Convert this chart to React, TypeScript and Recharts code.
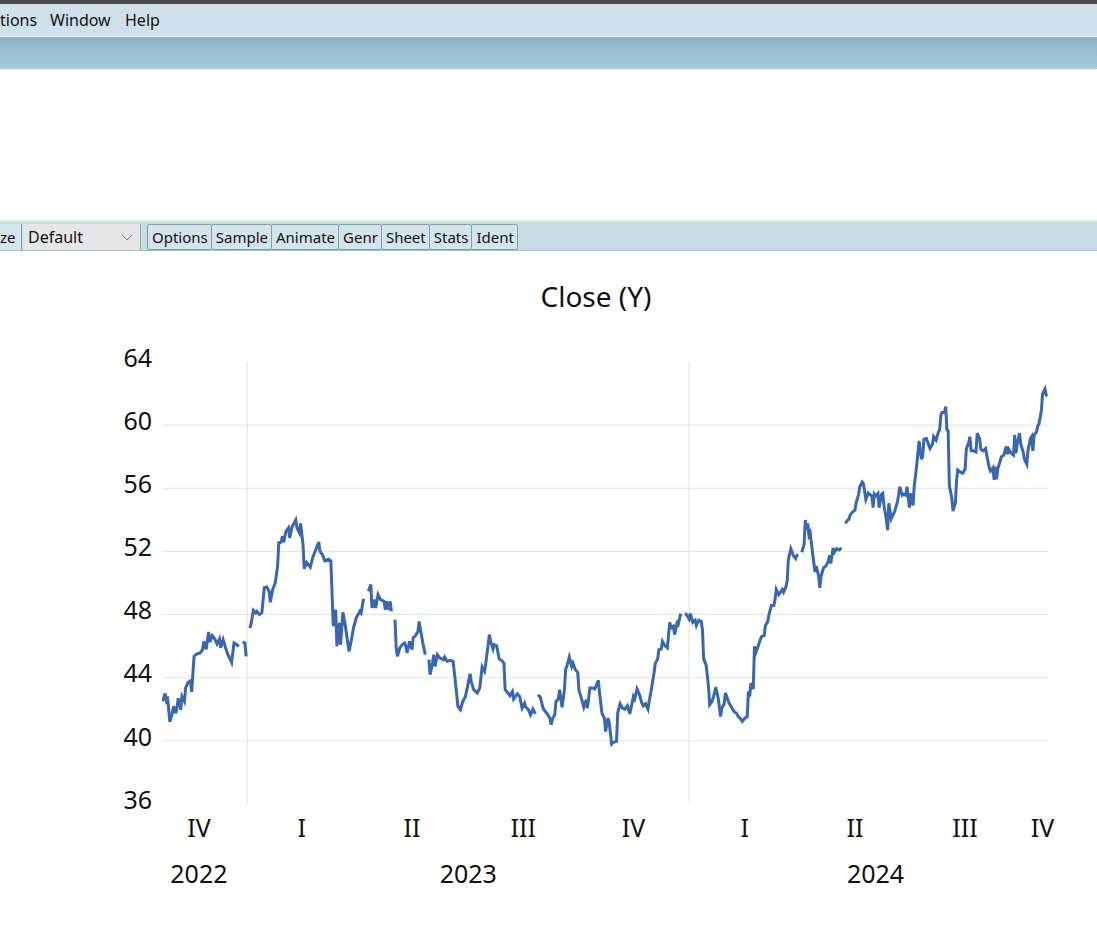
import React from "react";
import { LineChart, Line, XAxis, YAxis, ReferenceLine } from "recharts";

// Daily close, x = days since 2022-10-01, null = missing value (line break)
const close2022: [number, number | null][] = [
  [22, 42.5], [24, 43.0], [25, 42.6], [26, 42.8], [28, 41.2], [30, 41.75], [31, 42.2], [33, 41.75],
  [34, 42.2], [35, 42.7], [37, 41.97], [38, 42.8], [40, 42.5], [41, 43.35], [43, 43.7], [45, 43.8],
  [46, 43.1], [48, 45.35], [50, 45.5], [53, 45.57], [55, 45.78], [56, 46.3], [58, 45.8], [60, 46.9],
  [61, 46.25], [63, 46.67], [65, 46.46], [67, 46.14], [69, 46.46], [70, 45.89], [72, 46.41], [74, 45.89],
  [76, 45.46], [78, 45.14], [79, 44.97], [81, 46.2], [83, 46.1], [85, 45.99], [86.5, null], [88, 46.25],
  [90, 46.2], [91, 45.35], [92, null],
];

const close2023: [number, number | null][] = [
  [94, 47.15], [95, 47.37], [97, 48.27], [99, 48.1], [100, 48.2], [102, 48.0], [104, 48.1], [106, 49.7],
  [108, 49.75], [110, 49.48], [111, 48.78], [113, 49.6], [115, 50.0], [117, 51.07], [118, 52.55], [120, 52.59],
  [121, 52.97], [122, 52.59], [124, 53.29], [126, 53.49], [127, 52.86], [129, 53.56], [132, 53.99], [133, 53.49],
  [135, 53.18], [136, 53.78], [138, 52.44], [139, 50.9], [141, 51.3], [144, 51.0], [146, 51.6], [149, 52.2],
  [151, 52.6], [152, 52.0], [154, 51.8], [156, 51.4], [159, 51.5], [161, 51.4], [163, 47.26], [165, 48.3],
  [166, 45.99], [168, 47.47], [169, 46.1], [171, 48.15], [173, 47.26], [176, 45.67], [178, 46.41], [180, 47.26],
  [182, 47.79], [183, 47.94], [185, 48.21], [186, 48.1], [188, 49.0], [190, null], [192, 49.48], [194, 49.9],
  [195, 48.42], [197, 48.95], [198, 48.42], [200, 49.27], [202, 48.95], [205, 48.84], [206, 48.3], [207, 48.84],
  [209, 48.3], [210, 48.84], [211, 48.2], [212.5, null], [214, 47.68], [215, 45.89], [216, 45.35], [218, 45.89],
  [220, 46.1], [222, 46.2], [223, 45.99], [224, 45.57], [226, 46.3], [228, 45.78], [229, 46.52], [231, 46.67],
  [233, 46.94], [234, 47.57], [235, 47.05], [237, 46.2], [239, 45.46], [240.5, null], [242, 45.14], [243, 44.19],
  [245, 44.93], [246, 45.46], [247, 44.72], [249, 45.46], [251, 45.25], [254, 45.14], [255, 45.31], [257, 45.04],
  [260, 45.1], [262, 45.04], [264, 43.66], [266, 42.18], [268, 41.97], [270, 42.5], [272, 42.77], [274, 43.45],
  [276, 44.25], [277, 43.77], [279, 43.24], [282, 43.03], [284, 43.35], [286, 44.68], [288, 44.4], [289, 44.93],
  [291, 46.1], [292, 46.73], [293, 46.3], [295, 45.82], [296, 46.1], [298, 46.03], [300, 45.19], [302, 45.1],
  [304, 44.93], [305, 43.24], [307, 43.07], [309, 42.86], [311, 43.13], [312, 42.65], [315, 42.98], [317, 42.81],
  [319, 42.07], [321, 42.39], [322, 42.13], [324, 42.01], [326, 41.65], [328, 42.01], [330, 41.71], [331, null],
  [332, 42.92], [334, 42.77], [336, 42.18], [337, 41.97], [339, 41.8], [342, 41.44], [343, 41.02], [344, 41.38],
  [346, 41.65], [347, 42.5], [349, 42.65], [350, 43.24], [352, 42.13], [354, 43.24], [355, 44.55], [356, 44.72],
  [358, 45.31], [360, 44.72], [361, 44.93], [363, 44.51], [365, 44.34], [366, 43.19], [368, 42.71], [370, 42.13],
  [372, 42.6], [373, 42.07], [375, 43.35], [377, 43.35], [379, 43.28], [380, 43.45], [382, 43.83], [383, 43.03],
  [385, 41.76], [387, 41.44], [388, 40.59], [390, 41.44], [391, 41.16], [393, 39.81], [394, 39.89], [397, 39.96],
  [398, 41.76], [400, 42.35], [402, 42.07], [404, 42.01], [406, 42.22], [408, 41.71], [409, 42.07], [411, 42.81],
  [412, 42.65], [414, 43.28], [416, 42.92], [418, 42.39], [419, 42.22], [421, 42.35], [423, 42.01], [424, 42.5],
  [426, 43.35], [428, 44.3], [429, 44.89], [431, 45.19], [432, 45.78], [434, 45.82], [435, 46.3], [437, 46.03],
  [439, 45.89], [441, 47.51], [442, 47.15], [444, 47.26], [445, 46.73], [447, 47.47], [448, 47.37], [450, 48.06],
  [452, null], [454, 48.1], [456, 47.85],
];

const close2024: [number, number | null][] = [
  [457, 47.72], [458, 48.06], [460, 47.51], [462, 47.64], [463, 47.3], [465, 47.64], [467, 47.57], [468, 47.05],
  [469, 45.19], [471, 44.83], [473, 43.45], [474, 42.29], [476, 42.5], [478, 43.03], [479, 43.4], [481, 42.71],
  [483, 41.54], [484, 42.07], [486, 42.35], [487, 43.03], [489, 42.6], [490, 42.39], [492, 42.13], [494, 41.86],
  [496, 41.76], [498, 41.5], [499, 41.44], [501, 41.23], [503, 41.44], [505, 41.54], [506, 43.13], [507, 42.81],
  [508, 43.66], [510, 43.28], [511, 45.99], [512, 45.57], [514, 45.99], [516, 46.46], [517, 46.62], [519, 46.67],
  [520, 47.3], [522, 47.57], [523, 48.0], [525, 48.57], [527, 48.57], [528, 48.95], [529, 49.59], [531, 49.27],
  [532, 49.38], [534, 49.59], [535, 49.42], [537, 49.76], [538, 50.11], [539, 51.49], [541, 52.17], [543, 51.75],
  [545, 51.54], [546, 51.75], [547, 51.81], [548.5, null], [550, 51.95], [552, 52.44], [553, 53.99], [554, 53.4],
  [555, 53.78], [556, 53.02], [557, 53.18], [559, 51.9], [561, 50.69], [562, 51.07], [564, 50.43], [565, 49.69],
  [566, 50.43], [568, 50.96], [570, 51.07], [572, 51.38], [573, 51.75], [574, 51.24], [576, 52.22], [577, 51.95],
  [579, 52.17], [581, 52.09], [582, 52.17], [583, 52.13], [584.5, null], [586, 53.78], [588, 53.99], [589, 54.03],
  [590, 54.29], [592, 54.5], [594, 54.62], [595, 55.09], [597, 55.6], [598, 56.1], [600, 56.4], [601, 56.3],
  [603, 55.3], [605, 55.7], [606, 55.62], [608, 55.51], [609, 54.77], [610, 55.62], [611, 55.51], [613, 55.68],
  [614, 54.77], [616, 55.62], [617, 55.68], [618, 54.88], [620, 54.03], [621, 53.35], [622, 55.05], [624, 54.07],
  [625, 54.24], [627, 54.56], [629, 55.13], [630, 55.51], [631, 56.1], [633, 55.56], [634, 55.62], [636, 55.56],
  [637, 56.1], [639, 54.77], [640, 55.68], [642, 54.92], [643, 56.15], [645, 57.42], [647, 59.0], [648, 58.37],
  [649, 57.84], [650, 58.05], [651, 59.11], [653, 59.15], [654, 58.94], [656, 58.52], [658, 58.79], [659, 59.28],
  [661, 59.05], [663, 59.57], [664, 59.7], [665, 60.63], [666, 60.8], [668, 60.8], [669, 61.18], [670, 59.7],
  [671, 59.64], [672, 56.15], [674, 55.4], [675, 54.56], [677, 55.09], [678, 56.57], [679, 57.16], [681, 57.03],
  [683, 56.95], [685, 57.21], [686, 58.48], [688, 58.9], [689, 59.28], [690, 58.37], [692, 58.37], [694, 58.3],
  [695, 59.49], [697, 59.15], [698, 58.48], [700, 58.37], [702, 58.52], [703, 58.05], [705, 57.3], [706, 57.09],
  [708, 57.3], [709, 56.53], [710, 57.37], [711, 56.57], [712, 57.24], [714, 57.73], [715, 58.0], [717, 58.1],
  [719, 58.65], [720, 58.16], [721, 58.48], [723, 58.22], [725, 58.1], [726, 59.37], [727, 58.22], [728, 58.79],
  [730, 59.49], [731, 58.79], [733, 58.3], [734, 57.84], [736, 57.52], [737, 58.42], [739, 59.15], [740, 59.28],
  [741, 58.37], [742, 59.37], [744, 59.57], [745, 59.95], [746, 60.06], [748, 60.91], [749, 61.97], [751, 62.29],
  [752, 61.9], [753, 61.85],
];

const yTicks = [36, 40, 44, 48, 52, 56, 60, 64];
const gridValues = [40, 44, 48, 52, 56, 60];
const yearBreaks = [92, 457]; // 2023-01-01 and 2024-01-01
const quarterTicks = [52, 137, 228, 320, 411, 503, 594, 685, 749];
const quarterLabels = ["IV", "I", "II", "III", "IV", "I", "II", "III", "IV"];
const yearTicks = [52, 274.5, 611];
const yearLabels = ["2022", "2023", "2024"];
const xDomain = [21.5, 753.5];

const menuItems = ["tions", "Window", "Help"];
const toolButtons = ["Options", "Sample", "Animate", "Genr", "Sheet", "Stats", "Ident"];

const chartData = [...close2022, ...close2023, ...close2024].map(([day, close]) => ({ day, close }));

const FONT = "'Noto Sans', 'Open Sans', sans-serif";
const INK = "#111111";

const QuarterTick = ({ x, y, payload }: any) => {
  const i = quarterTicks.indexOf(payload.value);
  return (
    <text x={x} y={y + 24} dy="0.35em" textAnchor="middle" fontSize={25} fontFamily={FONT} fill={INK}>
      {quarterLabels[i]}
    </text>
  );
};

const YearTick = ({ x, y, payload }: any) => {
  const i = yearTicks.indexOf(payload.value);
  return (
    <text x={x} y={y + 23} dy="0.35em" textAnchor="middle" fontSize={25} fontFamily={FONT} fill={INK}>
      {yearLabels[i]}
    </text>
  );
};

// value labels sit a little above their gridline, as in the original
const ValueTick = ({ x, y, payload }: any) => (
  <text x={x} y={y - 4} dy="0.35em" textAnchor="end" fontSize={25} fontFamily={FONT} fill={INK}>
    {payload.value}
  </text>
);

export default function App() {
  return (
    <div
      style={{
        position: "absolute",
        left: 0,
        top: 0,
        width: 1097,
        height: 926,
        overflow: "hidden",
        background: "#ffffff",
        fontFamily: FONT,
      }}
    >
      {/* window chrome */}
      <div style={{ position: "absolute", left: 0, top: 0, width: 1097, height: 4, background: "#4a4a4a" }} />
      <div style={{ position: "absolute", left: 0, top: 4, width: 1097, height: 32, background: "#cfe0ea" }}>
        {menuItems.map((m, i) => (
          <span
            key={m}
            style={{
              position: "absolute",
              left: [0, 50, 125][i],
              top: 0,
              lineHeight: "32px",
              fontSize: 16,
              color: INK,
            }}
          >
            {m}
          </span>
        ))}
      </div>
      <div style={{ position: "absolute", left: 0, top: 36, width: 1097, height: 1, background: "#eef4f7" }} />
      <div
        style={{
          position: "absolute",
          left: 0,
          top: 37,
          width: 1097,
          height: 32,
          background: "linear-gradient(#8db3c5, #a8cadb)",
        }}
      />

      {/* toolbar */}
      <div style={{ position: "absolute", left: 0, top: 220, width: 1097, height: 2, background: "#e4e4e4" }} />
      <div
        style={{
          position: "absolute",
          left: 0,
          top: 222,
          width: 1097,
          height: 28,
          background: "#c8dce4",
          borderBottom: "1px solid #a3bcc7",
        }}
      />
      <div
        style={{
          position: "absolute",
          left: 0,
          top: 224,
          width: 21,
          height: 26,
          borderRight: "1px solid #7f9eac",
          background: "#d5e5ec",
          fontSize: 15,
          lineHeight: "26px",
          color: INK,
        }}
      >
        ze
      </div>
      <div
        style={{
          position: "absolute",
          left: 23,
          top: 224,
          width: 117,
          height: 26,
          background: "#e6e6e6",
          borderRight: "1px solid #8ea9b5",
          fontSize: 16,
          lineHeight: "26px",
          color: INK,
        }}
      >
        <span style={{ position: "absolute", left: 5 }}>Default</span>
        <svg width={12} height={8} style={{ position: "absolute", left: 98, top: 10 }}>
          <polyline points="1,1 6,6 11,1" fill="none" stroke="#777" strokeWidth={1} />
        </svg>
      </div>
      <div style={{ position: "absolute", left: 147, top: 224, display: "flex" }}>
        {toolButtons.map((b) => (
          <div
            key={b}
            style={{
              height: 24,
              padding: "0 3px 0 4px",
              border: "1px solid #7f9eac",
              borderRadius: 2,
              marginRight: -1,
              background: "#d4e4eb",
              fontSize: 15,
              lineHeight: "25px",
              color: INK,
            }}
          >
            {b}
          </div>
        ))}
      </div>

      {/* title */}
      <div
        style={{
          position: "absolute",
          left: 446,
          top: 280,
          width: 300,
          textAlign: "center",
          fontSize: 28,
          lineHeight: "32px",
          color: INK,
        }}
      >
        Close (Y)
      </div>

      {/* chart */}
      <div style={{ position: "absolute", left: 0, top: 255 }}>
        <LineChart width={1097} height={671} data={chartData} margin={{ top: 107, right: 49, bottom: 25, left: 102 }}>
          <XAxis
            xAxisId="q"
            dataKey="day"
            type="number"
            domain={xDomain}
            ticks={quarterTicks}
            interval={0}
            tick={<QuarterTick />}
            axisLine={false}
            tickLine={false}
            tickSize={0}
            tickMargin={0}
            height={47}
            allowDataOverflow
          />
          <XAxis
            xAxisId="yr"
            dataKey="day"
            type="number"
            domain={xDomain}
            ticks={yearTicks}
            interval={0}
            tick={<YearTick />}
            axisLine={false}
            tickLine={false}
            tickSize={0}
            tickMargin={0}
            height={50}
            allowDataOverflow
          />
          <YAxis
            domain={[36, 64]}
            ticks={yTicks}
            interval={0}
            tick={<ValueTick />}
            axisLine={false}
            tickLine={false}
            tickSize={0}
            tickMargin={10}
            width={60}
          />
          {gridValues.map((v) => (
            <ReferenceLine key={`g${v}`} xAxisId="q" y={v} stroke="#e3e3e3" strokeWidth={1} />
          ))}
          {yearBreaks.map((d) => (
            <ReferenceLine key={`b${d}`} xAxisId="q" x={d} stroke="#e3e3e3" strokeWidth={1} />
          ))}
          <Line
            xAxisId="q"
            type="linear"
            dataKey="close"
            stroke="#3866b0"
            strokeWidth={3}
            dot={false}
            connectNulls={false}
            isAnimationActive={false}
          />
        </LineChart>
      </div>
    </div>
  );
}
